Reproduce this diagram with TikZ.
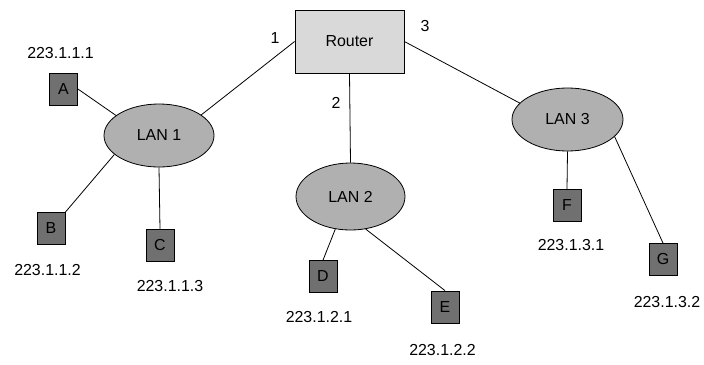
\documentclass[tikz,border=0pt]{standalone}
\usepackage{fontspec}
\setmainfont{Liberation Sans}
\usetikzlibrary{shapes.geometric}
\definecolor{hostgray}{HTML}{707070}
\definecolor{langray}{HTML}{B0B0B0}
\definecolor{routergray}{HTML}{D9D9D9}
\begin{document}
\begin{tikzpicture}[x=1bp,y=-1bp,
  every node/.style={font=\fontsize{16}{18}\selectfont, inner sep=0pt},
  host/.style={draw=black, fill=hostgray, minimum width=28bp, minimum height=32bp, line width=0.8bp},
  lan/.style={draw=black, fill=langray, ellipse, line width=0.8bp},
  routerbox/.style={draw=black, fill=routergray, minimum width=109bp, minimum height=63bp, line width=0.8bp},
  link/.style={draw=black, line width=0.8bp},
  addr/.style={anchor=center}]
\useasboundingbox[fill=white] (0,0) rectangle (704,364);
% links first (under nodes)
\node[routerbox] (router) at (349.5,41.5) {Router};
\node[lan, minimum width=110bp, minimum height=63bp] (lan1) at (159,135.5) {LAN 1};
\node[lan, minimum width=109bp, minimum height=67bp] (lan2) at (350.5,196.5) {LAN 2};
\node[lan, minimum width=111bp, minimum height=63bp] (lan3) at (567.5,119.5) {LAN 3};
\node[host] (A) at (63.5,89) {A};
\node[host] (B) at (51,228.5) {B};
\node[host] (C) at (160,245.5) {C};
\node[host] (D) at (323,276.5) {D};
\node[host] (E) at (445,307) {E};
\node[host] (F) at (567,205.5) {F};
\node[host] (G) at (663,259.5) {G};
\draw[link] (router.west) -- (lan1.26);
\draw[link] (router.south) -- (lan2.north);
\draw[link] (router.east) -- (lan3.161);
\draw[link] (A.east) -- (lan1.155);
\draw[link] (B.north east) -- (lan1.203);
\draw[link] (lan1.south) -- (C.north);
\draw[link] (lan2.245) -- (D.north);
\draw[link] (lan2.295) -- (E.north);
\draw[link] (lan3.south) -- (F.north);
\draw[link] (lan3.340) -- (G.north);
% interface numbers
\node (n1) at (275,38) {1};
\node (n2) at (336,103) {2};
\node (n3) at (425,26) {3};
% addresses
\node[addr] (aA) at (60.5,53) {223.1.1.1};
\node[addr] (aB) at (47.5,270) {223.1.1.2};
\node[addr] (aC) at (170,286) {223.1.1.3};
\node[addr] (aD) at (319,317) {223.1.2.1};
\node[addr] (aE) at (442.5,350) {223.1.2.2};
\node[addr] (aF) at (571,245) {223.1.3.1};
\node[addr] (aG) at (667,302) {223.1.3.2};
\end{tikzpicture}
\end{document}
